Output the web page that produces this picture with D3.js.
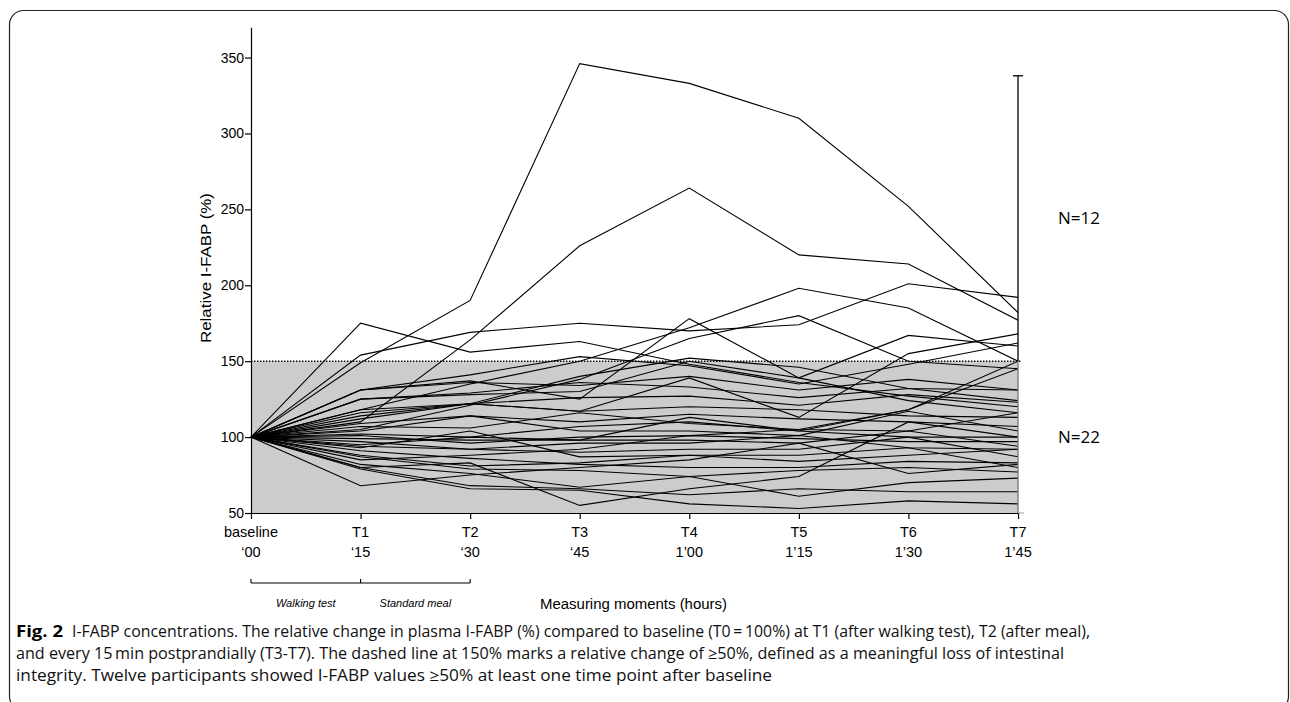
<!DOCTYPE html>
<html>
<head>
<meta charset="utf-8">
<script src="https://cdn.jsdelivr.net/npm/d3@7"></script>
<style>
  body { margin: 0; background: #fff; }
  svg { display: block; }
</style>
</head>
<body>
<div id="chart"></div>
<script>
  // time points
  const timeLabels = ["baseline", "T1", "T2", "T3", "T4", "T5", "T6", "T7"];
  const timeSubLabels = ["\u201800", "\u201815", "\u201830", "\u201845", "1\u201900", "1\u201915", "1\u201930", "1\u201945"];
  const yTicks = [50, 100, 150, 200, 250, 300, 350];
  const threshold = 150;
  const bracketTop = 338;

  // participants reaching >= 150% at least once (N=12)
  const highGroup = [
    [100, 149, 190, 346, 333, 310, 252, 182],
    [100, 110, 164, 226, 264, 220, 214, 177],
    [100, 175, 156, 163, 148, 136, 127, 120],
    [100, 154, 169, 175, 170, 174, 201, 192],
    [100, 131, 137, 125, 178, 139, 124, 116],
    [100, 118, 135, 150, 172, 198, 185, 150],
    [100, 105, 121, 138, 165, 180, 150, 145],
    [100, 112, 122, 117, 139, 113, 155, 168],
    [100, 125, 128, 130, 150, 139, 167, 160],
    [100, 131, 141, 153, 147, 135, 148, 162],
    [100, 95, 100, 98, 113, 104, 118, 150],
    [100, 116, 122, 140, 152, 146, 132, 131]
  ];

  // participants staying below 150% (N=22)
  const lowGroup = [
    [100, 131, 136, 134, 140, 131, 138, 131],
    [100, 125, 129, 136, 133, 126, 132, 124],
    [100, 118, 122, 126, 127, 121, 128, 123],
    [100, 114, 122, 117, 120, 118, 114, 113],
    [100, 109, 114, 110, 115, 112, 110, 107],
    [100, 107, 106, 116, 109, 105, 104, 116],
    [100, 104, 114, 104, 104, 101, 117, 104],
    [100, 102, 100, 107, 110, 104, 100, 100],
    [100, 101, 96, 100, 101, 99, 97, 97],
    [100, 99, 98, 98, 98, 96, 104, 94],
    [100, 97, 92, 96, 96, 101, 93, 92],
    [100, 94, 92, 90, 92, 92, 100, 87],
    [100, 93, 104, 87, 88, 84, 88, 92],
    [100, 91, 86, 82, 80, 80, 84, 83],
    [100, 88, 81, 83, 88, 88, 93, 80],
    [100, 87, 79, 78, 74, 78, 80, 77],
    [100, 85, 88, 92, 101, 105, 118, 145],
    [100, 82, 76, 67, 74, 61, 70, 73],
    [100, 80, 68, 66, 62, 66, 64, 64],
    [100, 79, 66, 65, 56, 53, 58, 56],
    [100, 68, 75, 80, 85, 96, 76, 82],
    [100, 80, 83, 55, 66, 74, 110, 100]
  ];

  const groupLabels = ["N=12", "N=22"];
  const phaseLabels = ["Walking test", "Standard meal"];
  const xTitle = "Measuring moments (hours)";
  const yTitle = "Relative I-FABP (%)";
  const captionLines = [
    "I-FABP concentrations. The relative change in plasma I-FABP (%) compared to baseline (T0\u2009=\u2009100%) at T1 (after walking test), T2 (after meal),",
    "and every 15\u2009min postprandially (T3-T7). The dashed line at 150% marks a relative change of \u226550%, defined as a meaningful loss of intestinal",
    "integrity. Twelve participants showed I-FABP values \u226550% at least one time point after baseline"
  ];

  const width = 1290;
  const height = 702;
  const chartFont = "'Liberation Sans', Arial, sans-serif";
  const captionFont = "'Open Sans', 'Noto Sans', sans-serif";

  const svg = d3.select("#chart")
    .append("svg")
    .attr("width", width)
    .attr("height", height);

  // figure frame
  svg.append("rect")
    .attr("x", 9.5).attr("y", 10.5)
    .attr("width", 1279).attr("height", 700)
    .attr("rx", 14).attr("ry", 14)
    .attr("fill", "none")
    .attr("stroke", "#222")
    .attr("stroke-width", 1.2);

  const x = d3.scalePoint()
    .domain(timeLabels)
    .range([251, 1018]);

  const y = d3.scaleLinear()
    .domain([50, 370])
    .range([513, 27.2]);

  // shaded area below the threshold
  svg.append("rect")
    .attr("x", x("baseline"))
    .attr("y", y(threshold))
    .attr("width", x("T7") - x("baseline"))
    .attr("height", y(50) - y(threshold))
    .attr("fill", "#cccccc");

  // dotted threshold line
  svg.append("line")
    .attr("x1", x("baseline")).attr("x2", x("T7") + 4)
    .attr("y1", y(threshold)).attr("y2", y(threshold))
    .attr("stroke", "#000")
    .attr("stroke-width", 1.4)
    .attr("stroke-dasharray", "1.4,1.6");

  // participant lines
  const line = d3.line()
    .x((d, i) => x(timeLabels[i]))
    .y(d => y(d));

  svg.append("g")
    .selectAll("path")
    .data(lowGroup.concat(highGroup))
    .enter()
    .append("path")
    .attr("d", line)
    .attr("fill", "none")
    .attr("stroke", "#000")
    .attr("stroke-width", 1.1);

  // y axis
  const yAxis = svg.append("g")
    .attr("transform", `translate(${x("baseline")},0)`)
    .call(d3.axisLeft(y).tickValues(yTicks).tickSize(6).tickSizeOuter(0).tickPadding(1));
  yAxis.selectAll("text")
    .attr("font-family", chartFont)
    .attr("font-size", 14)
    .attr("fill", "#000");

  // x axis
  const xAxis = svg.append("g")
    .attr("transform", `translate(0,${y(50)})`)
    .call(d3.axisBottom(x).tickSize(6).tickSizeOuter(0).tickFormat(""));

  svg.selectAll(".domain, .tick line")
    .attr("stroke", "#000")
    .attr("stroke-width", 1.2);

  const xLabels = svg.append("g")
    .attr("font-family", chartFont)
    .attr("font-size", 14.5)
    .attr("text-anchor", "middle");
  xLabels.selectAll("text.top")
    .data(timeLabels)
    .enter()
    .append("text")
    .attr("x", d => x(d))
    .attr("y", 537)
    .text(d => d);
  xLabels.selectAll("text.sub")
    .data(timeSubLabels)
    .enter()
    .append("text")
    .attr("x", (d, i) => x(timeLabels[i]))
    .attr("y", 557)
    .text(d => d);

  // y title
  svg.append("text")
    .attr("transform", `translate(211,268) rotate(-90)`)
    .attr("text-anchor", "middle")
    .attr("font-family", chartFont)
    .attr("font-size", 15)
    .attr("textLength", 150)
    .attr("lengthAdjust", "spacingAndGlyphs")
    .text(yTitle);

  // right bracket for the two groups
  const bx = x("T7");
  svg.append("line")
    .attr("x1", bx).attr("x2", bx)
    .attr("y1", y(bracketTop)).attr("y2", y(threshold))
    .attr("stroke", "#000").attr("stroke-width", 1.3);
  svg.append("line")
    .attr("x1", bx).attr("x2", bx)
    .attr("y1", y(threshold)).attr("y2", y(50))
    .attr("stroke", "#777").attr("stroke-width", 1.3);
  svg.append("line")
    .attr("x1", bx - 5).attr("x2", bx + 5)
    .attr("y1", y(bracketTop)).attr("y2", y(bracketTop))
    .attr("stroke", "#000").attr("stroke-width", 1.3);
  svg.append("line")
    .attr("x1", bx).attr("x2", bx + 6)
    .attr("y1", y(50)).attr("y2", y(50))
    .attr("stroke", "#999").attr("stroke-width", 1);

  svg.selectAll("text.group")
    .data(groupLabels)
    .enter()
    .append("text")
    .attr("x", 1058)
    .attr("y", (d, i) => i === 0 ? y((bracketTop + threshold) / 2) + 6 : y(100) + 6)
    .attr("font-family", captionFont)
    .attr("font-size", 17)
    .text(d => d);

  // phase bracket under the x axis
  const phaseY = 583;
  const phaseTicks = ["baseline", "T1", "T2"];
  svg.append("line")
    .attr("x1", x("baseline")).attr("x2", x("T2"))
    .attr("y1", phaseY).attr("y2", phaseY)
    .attr("stroke", "#000").attr("stroke-width", 1.1);
  svg.selectAll("line.phase")
    .data(phaseTicks)
    .enter()
    .append("line")
    .attr("x1", d => x(d)).attr("x2", d => x(d))
    .attr("y1", phaseY - 4).attr("y2", phaseY)
    .attr("stroke", "#000").attr("stroke-width", 1.1);
  svg.selectAll("text.phase")
    .data(phaseLabels)
    .enter()
    .append("text")
    .attr("x", (d, i) => (x(phaseTicks[i]) + x(phaseTicks[i + 1])) / 2)
    .attr("y", 607)
    .attr("text-anchor", "middle")
    .attr("font-family", chartFont)
    .attr("font-size", 11)
    .attr("font-style", "italic")
    .text(d => d);

  svg.append("text")
    .attr("x", 540)
    .attr("y", 609)
    .attr("font-family", chartFont)
    .attr("font-size", 14)
    .attr("textLength", 187)
    .attr("lengthAdjust", "spacingAndGlyphs")
    .text(xTitle);

  // caption
  svg.append("text")
    .attr("x", 16)
    .attr("y", 637)
    .attr("font-family", captionFont)
    .attr("font-size", 16)
    .attr("font-weight", "bold")
    .attr("textLength", 47)
    .attr("lengthAdjust", "spacingAndGlyphs")
    .text("Fig. 2");

  const captionX = [72, 16, 16];
  const captionEnd = [1090, 1064, 772];
  svg.selectAll("text.caption")
    .data(captionLines)
    .enter()
    .append("text")
    .attr("x", (d, i) => captionX[i])
    .attr("y", (d, i) => 637 + i * 22)
    .attr("font-family", captionFont)
    .attr("font-size", 16)
    .attr("fill", "#111")
    .attr("textLength", (d, i) => captionEnd[i] - captionX[i])
    .attr("lengthAdjust", "spacingAndGlyphs")
    .text(d => d);
</script>
</body>
</html>
